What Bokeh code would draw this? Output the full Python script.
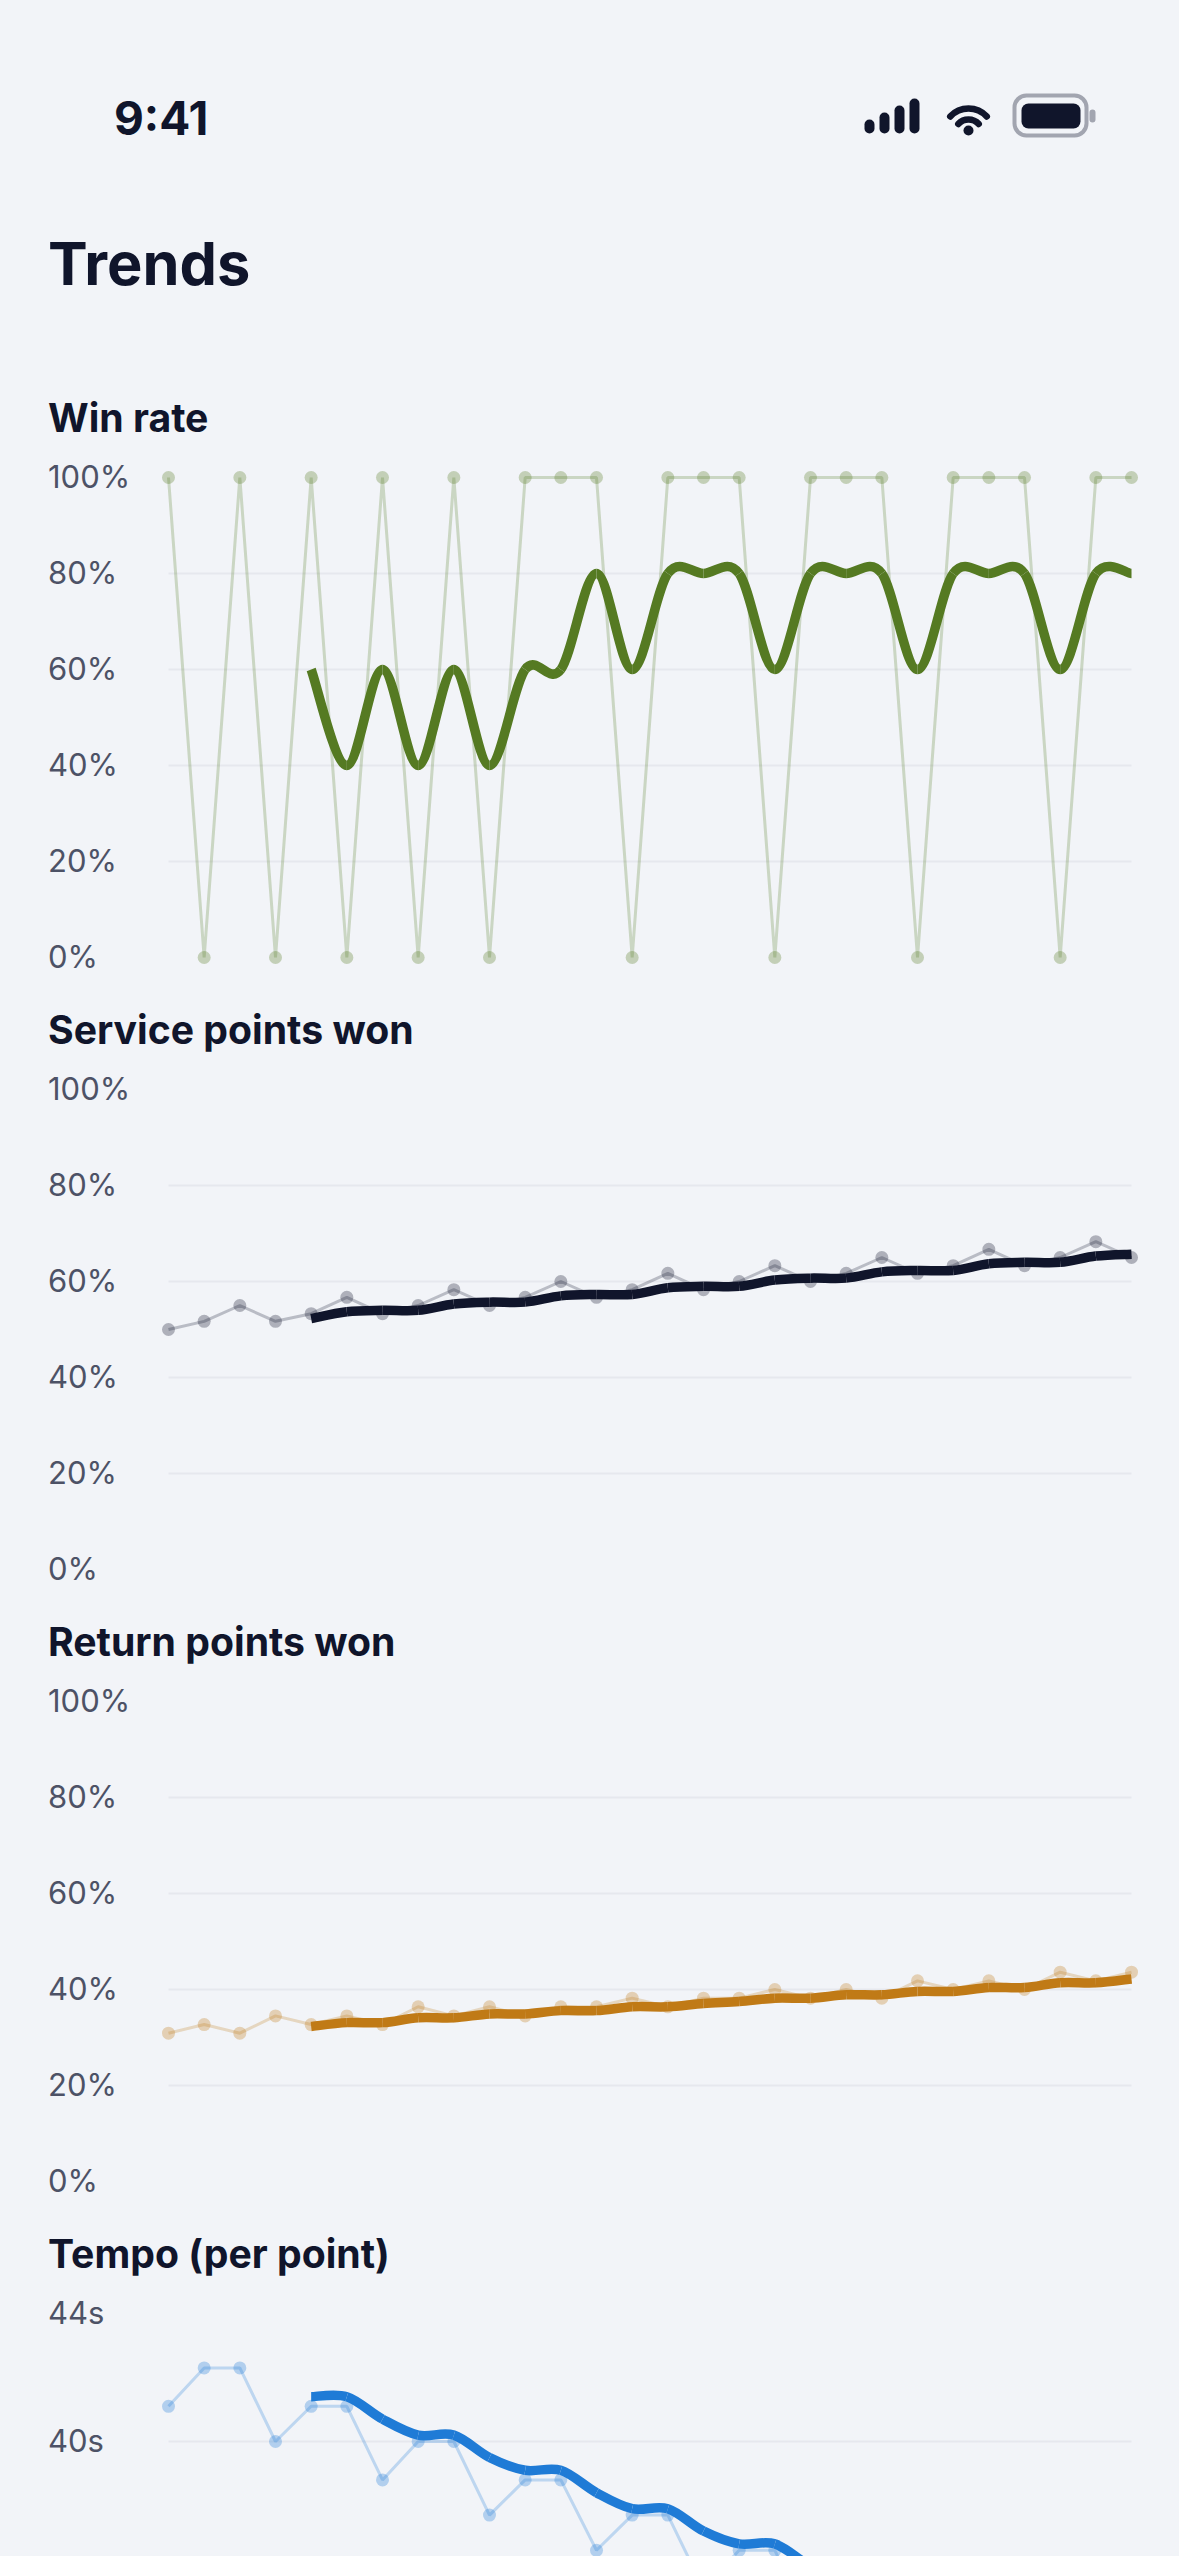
from bokeh.plotting import figure
from bokeh.layouts import column
from bokeh.models import FixedTicker, Grid, Label
from bokeh.embed import file_html
from bokeh.resources import INLINE

# ---------- data ----------
matches = list(range(28))

win_rate = [100,0,100,0,100,0,100,0,100,0,100,100,100,0,100,100,100,0,100,100,100,0,100,100,100,0,100,100]
win_rate_avg = [60,40,60,40,60,40,60,60,80,60,80,80,80,60,80,80,80,60,80,80,80,60,80,80]

service = [50,51.7,55,51.7,53.3,56.7,53.3,55,58.3,55,56.7,60,56.7,58.3,61.7,58.3,60,63.3,60,61.7,65,61.7,63.3,66.7,63.3,65,68.3,65]
service_avg = [52.3,53.7,54,54,55.3,55.7,55.7,57,57.3,57.3,58.7,59,59,60.3,60.7,60.7,62,62.3,62.3,63.7,64,64,65.3,65.7]

returns = [30.9,32.7,30.9,34.5,32.7,34.5,32.7,36.4,34.5,36.4,34.5,36.4,36.4,38.2,36.4,38.2,38.2,40,38.2,40,38.2,41.8,40,41.8,40,43.6,41.8,43.6]
returns_avg = [32.3,33.1,33.1,34.1,34.1,34.9,34.9,35.6,35.6,36.4,36.4,37.1,37.5,38.2,38.2,38.9,38.9,39.6,39.6,40.4,40.4,41.4,41.4,42.2]

tempo = [41.1,42.3,42.3,40,41.1,41.1,38.8,40,40,37.7,38.8,38.8,36.6,37.7,37.7,35.4,36.6,36.6,34.3,35.4,35.4,33.1,34.3,34.3,32,33.1,33.1,30.9]
tempo_avg = [41.4,41.4,40.7,40.2,40.2,39.5,39.1,39.1,38.4,37.9,37.9,37.2,36.8,36.8,36.1,35.6,35.6,34.9,34.5,34.5,33.8,33.3,33.3,32.7]

pct_ticks = [100,80,60,40,20,0]
pct_labels = ["100%","80%","60%","40%","20%","0%"]
pct_grid = [80,60,40,20]
tempo_ticks = [44,40]
tempo_labels = ["44s","40s"]
tempo_grid = [40]

# ---------- style ----------
BG = "#f2f4f8"
INK = "#10152b"
MUTED = "#4d5266"
GRID = "#e6e8ee"
FONT = "Inter"
FIG_W = 1179
X0, STEP = 168, 35.667      # page x of first match, px per match
TEXT_X = (47.5 - X0) / STEP   # left edge of texts, in match units


def smooth(p, xs, ys, color):
    """Draw a Catmull-Rom curve through the points with the Bezier glyph."""
    n = len(xs)
    x0, y0, x1, y1, cx0, cy0, cx1, cy1 = [], [], [], [], [], [], [], []
    for i in range(n - 1):
        a, b = max(i - 1, 0), min(i + 2, n - 1)
        x0.append(xs[i]); y0.append(ys[i]); x1.append(xs[i + 1]); y1.append(ys[i + 1])
        cx0.append(xs[i] + (xs[i + 1] - xs[a]) / 6); cy0.append(ys[i] + (ys[i + 1] - ys[a]) / 6)
        cx1.append(xs[i + 1] - (xs[b] - xs[i]) / 6); cy1.append(ys[i + 1] - (ys[b] - ys[i]) / 6)
    p.bezier(x0, y0, x1, y1, cx0, cy0, cx1, cy1, line_color=color, line_width=9.5, line_cap="butt")


def chart(title, top_page, height, y_top, y_per_px, ticks, labels, grid, raw, avg, color):
    """The plot frame fills the figure; y_top lies 92px below the figure's top."""
    TOP_GAP = 92
    p = figure(width=FIG_W, height=height, output_backend="svg", toolbar_location=None,
               x_range=(-X0 / STEP, (FIG_W - X0) / STEP),
               y_range=(y_top - (height - TOP_GAP) * y_per_px, y_top + TOP_GAP * y_per_px),
               min_border=0, background_fill_color=BG, border_fill_color=BG,
               outline_line_color=None, x_axis_type=None, y_axis_type=None)
    p.grid.visible = False
    p.add_layout(Grid(dimension=1, ticker=FixedTicker(ticks=grid), grid_line_color=GRID,
                      grid_line_width=2, cross_bounds=(matches[0], matches[-1])))

    p.line(matches, raw, line_color=color, line_alpha=0.25, line_width=3)
    p.scatter(matches, raw, size=13, fill_color=color, fill_alpha=0.3, line_color=None)
    smooth(p, matches[4:], avg, color)

    for t, s in zip(ticks, labels):
        p.add_layout(Label(x=TEXT_X, y=t + 1.5 * y_per_px, text=s,
                           text_font=FONT, text_font_size="31px", text_color=MUTED,
                           text_align="left", text_baseline="middle"))
    p.add_layout(Label(x=TEXT_X, y=y_top + 60.5 * y_per_px, text=title,
                       text_font=FONT, text_font_size="39.2px", text_font_style="bold",
                       text_color=INK, text_align="left", text_baseline="middle"))
    return p

# ---------- header (phone status bar and page title) ----------
TOP = 385
h = figure(width=FIG_W, height=TOP, output_backend="svg", toolbar_location=None,
           x_range=(0, FIG_W), y_range=(TOP, 0), min_border=0,
           background_fill_color=BG, border_fill_color=BG, outline_line_color=None,
           x_axis_type=None, y_axis_type=None)
h.grid.visible = False
h.add_layout(Label(x=113.5, y=117, text="9:41", text_font=FONT, text_font_size="46px",
                   text_font_style="bold", text_color=INK, text_baseline="middle", text_align="left"))
h.add_layout(Label(x=47.5, y=262, text="Trends", text_font=FONT, text_font_size="59.5px",
                   text_font_style="bold", text_color=INK, text_baseline="middle", text_align="left"))
# signal bars
h.multi_line([[869,869],[884,884],[899,899],[914,914]], [[128,124],[128,117],[128,110],[128,103]],
             line_color=INK, line_width=10, line_cap="round")
# wifi
h.arc([968,968], [133,133], radius=[14,25], start_angle=0.75, end_angle=2.39,
      direction="anticlock", line_color=INK, line_width=6.5, line_cap="round")
h.scatter([968], [130], size=10, fill_color=INK, line_color=None)
# battery
h.quad(left=[1014], right=[1086], top=[135], bottom=[95], fill_color=None,
       line_color="#a2a5b0", line_width=4, border_radius=12)
h.quad(left=[1021], right=[1080], top=[128], bottom=[103], fill_color=INK,
       line_color=None, border_radius=7)
h.quad(left=[1089], right=[1095], top=[122], bottom=[109], fill_color="#a2a5b0",
       line_color=None, border_radius=3)

# ---------- charts ----------
PX_PCT = 100 / 480
c1 = chart("Win rate", 385, 612, 100, PX_PCT, pct_ticks, pct_labels, pct_grid,
           win_rate, win_rate_avg, "#557a22")
c2 = chart("Service points won", 997, 612, 100, PX_PCT, pct_ticks, pct_labels, pct_grid,
           service, service_avg, "#10152b")
c3 = chart("Return points won", 1609, 612, 100, PX_PCT, pct_ticks, pct_labels, pct_grid,
           returns, returns_avg, "#c07a16")
c4 = chart("Tempo (per point)", 2221, 335, 44, 1 / 32, tempo_ticks, tempo_labels, tempo_grid,
           tempo, tempo_avg, "#1f7bd6")

page = column(h, c1, c2, c3, c4, spacing=0)
html = file_html(page, INLINE).replace(
    "</head>", "<style>html,body{background:%s;}</style></head>" % BG)
open("out.html", "w").write(html)
